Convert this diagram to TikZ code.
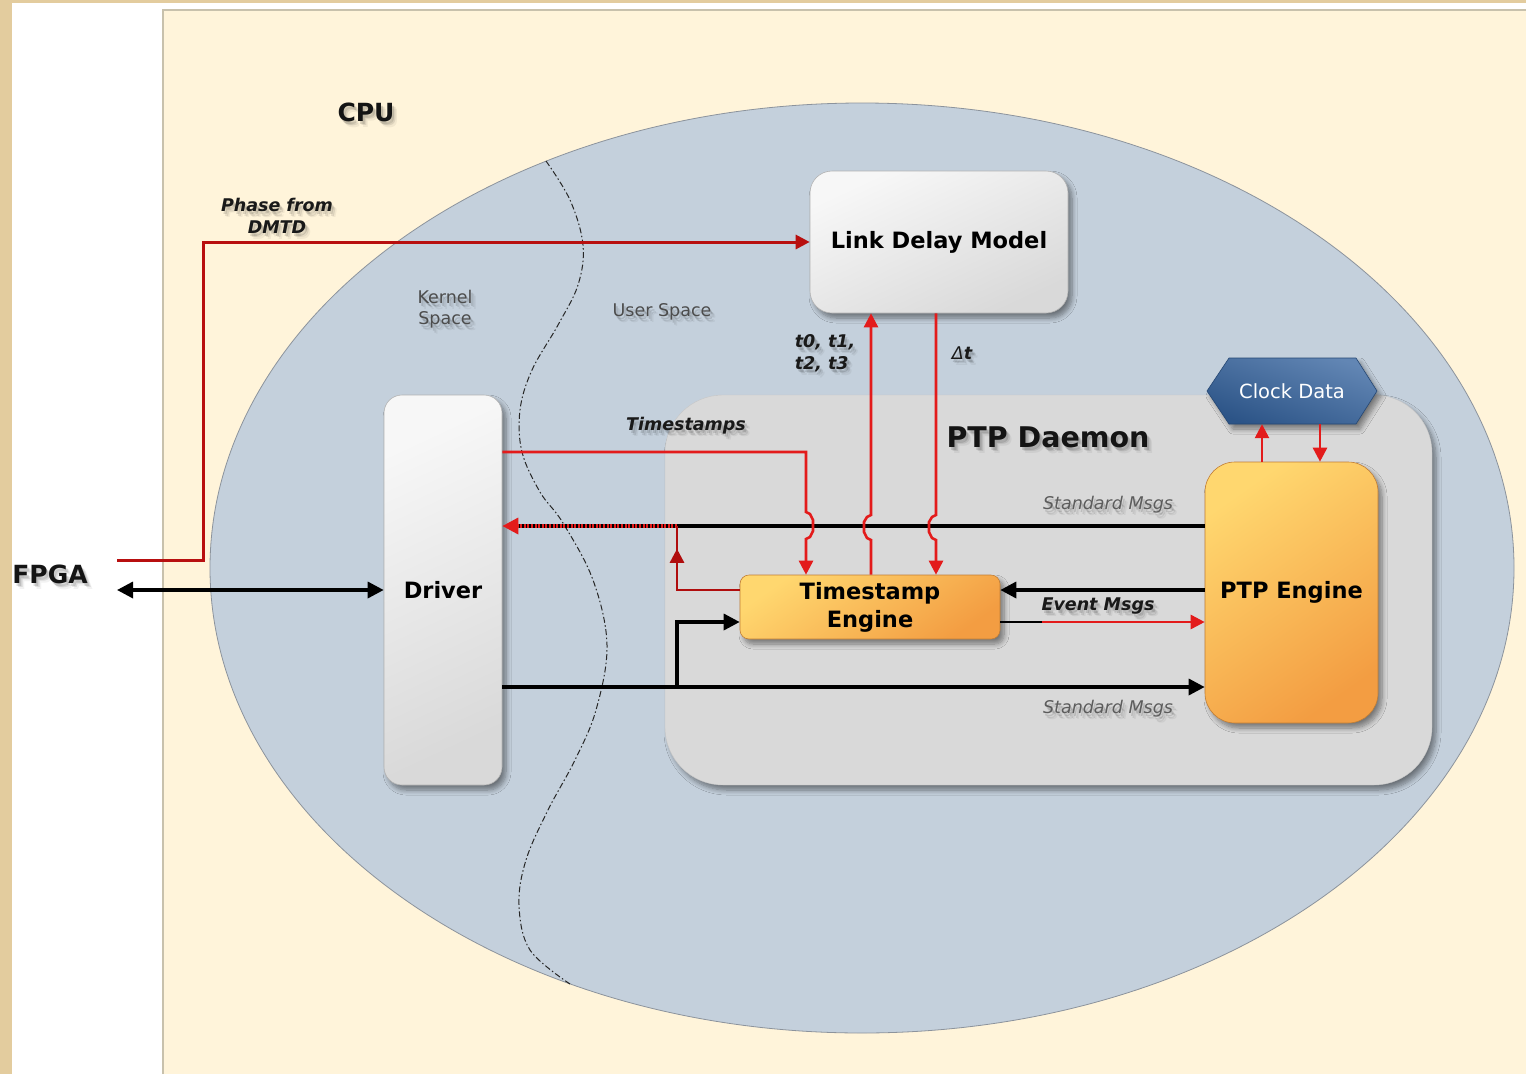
\documentclass[tikz,border=0pt]{standalone}
\usepackage{fontspec}
\setmainfont{DejaVu Sans}
\usetikzlibrary{arrows.meta,calc,shadows,shadows.blur,decorations.markings}

\definecolor{frametan}{HTML}{E3CC9E}
\definecolor{panel}{HTML}{FFF4DA}
\definecolor{panelline}{HTML}{C8C1AC}
\definecolor{cpu}{HTML}{C4D0DC}
\definecolor{cpuline}{HTML}{8C939C}
\definecolor{daemon}{HTML}{D9D9D9}
\definecolor{ored}{HTML}{E31B1B}
\definecolor{dred}{HTML}{B00D0D}
\definecolor{orA}{HTML}{FFD76F}
\definecolor{orB}{HTML}{F39D42}
\definecolor{hexA}{HTML}{6286B4}
\definecolor{hexB}{HTML}{2C5487}

\tikzset{
  box/.style={draw=black!30, line width=0.6pt, align=center, inner sep=0pt,
    font=\fontsize{22.5}{28}\selectfont\bfseries},
  greybox/.style={box, top color=black!3, bottom color=black!15, shading angle=25},
  orangebox/.style={box, draw=orB!80!black, top color=orA, bottom color=orB, shading angle=35},
  softshadow/.style={blur shadow={shadow xshift=4pt, shadow yshift=-5pt,
    shadow blur steps=8, shadow blur radius=5pt, shadow opacity=45}},
  blk/.style={line width=3.4pt, black},
  redln/.style={line width=2.6pt, ored},
  bhead/.style={-{Triangle[length=16pt,width=16pt]}},
  rhead/.style={-{Triangle[length=14pt,width=14pt]}},
  lbl/.style={font=\fontsize{17.5}{21.5}\selectfont, text=black!70, align=center, inner sep=0pt},
  ilbl/.style={lbl, text=black!64, font=\fontsize{17.5}{21.5}\selectfont\itshape},
  bilbl/.style={lbl, text=black!90, font=\fontsize{17.5}{21.5}\selectfont\bfseries\itshape},
  bigbold/.style={inner sep=0pt, text=black!92, font=\fontsize{25}{30}\selectfont\bfseries},
}

% text with a soft drop shadow: options, name, position, text
\newcommand\softtext[4]{%
  \foreach \dx/\dy/\op [count=\k] in {2/3/0.13, 3.5/4.5/0.09, 5/6/0.05}{%
    \node[#1, text=black, text opacity=\op] (#2s\k) at ($#3+(\dx,\dy)$) {#4};}%
  \node[#1] (#2) at #3 {#4};}

\begin{document}
\begin{tikzpicture}[x=1pt, y=-1pt]
\useasboundingbox (0,0) rectangle (1526,1074);

% page frame and panel
\fill[frametan] (0,0) rectangle (1526,1074);
\fill[white] (12,3) rectangle (1526,1074);
\fill[panel] (163,10) rectangle (1526,1074);
\draw[panelline, line width=1.2pt] (163,1074) -- (163,10) -- (1526,10);

% CPU region
\draw[draw=cpuline, line width=0.8pt, fill=cpu] (862,568) ellipse [x radius=652pt, y radius=465pt];

% kernel / user space boundary
\draw[black!85, line width=1pt, dash pattern=on 6pt off 2.5pt on 1.5pt off 2.5pt]
  plot[smooth, tension=0.6] coordinates {(546,161) (570,200) (583,245) (578,285) (558,325)
  (532,370) (520,410) (522,452) (540,492) (563,523) (593,580) (607,645) (596,710)
  (575,760) (548,810) (526,860) (519,905) (530,950) (570,984)};

% PTP daemon container
\node[draw=black!22, fill=daemon, softshadow, rounded corners=58pt, inner sep=0pt,
  minimum width=767pt, minimum height=390pt] (dmn) at (1048.5,590) {};

% functional blocks
\node[greybox, softshadow, rounded corners=18pt, minimum width=118pt, minimum height=390pt]
  (drv) at (443,590) {Driver};
\node[greybox, softshadow, rounded corners=22pt, minimum width=258pt, minimum height=142pt]
  (ldm) at (939,242) {Link Delay Model};
\node[orangebox, softshadow, rounded corners=9pt, minimum width=260pt, minimum height=64pt]
  (te) at (870,607) {Timestamp\\Engine};
\node[orangebox, softshadow, rounded corners=30pt, minimum width=173pt, minimum height=261pt]
  (pe) at (1291.5,592.5) {PTP Engine};

% clock data store
\path[softshadow, draw=hexB!85!black, line width=0.6pt, top color=hexA, bottom color=hexB, shading angle=-20]
  (1207,391) -- (1229,358) -- (1356,358) -- (1377,391) -- (1356,424) -- (1229,424) -- cycle;
\node[inner sep=0pt, minimum width=170pt, minimum height=66pt, text=white,
  font=\fontsize{19.5}{23}\selectfont] (cd) at (1292,391) {Clock Data};

% reference levels for the connectors
\coordinate (phin) at (117,560);
\coordinate (fpin) at (117,590);
\coordinate (yTS) at (0,452);
\coordinate (yStdU) at (0,526);
\coordinate (yEvA) at (0,590);
\coordinate (yEvB) at (0,622);
\coordinate (yStdL) at (0,687);
\coordinate (xTS) at (806,0);
\coordinate (xUp) at (871,0);
\coordinate (xDn) at (936,0);
\coordinate (xFb) at (677,0);
\coordinate (xCa) at (1262,0);
\coordinate (xCb) at (1320,0);

% phase from DMTD into the link delay model
\draw[line width=3pt, dred!85!ored, rhead] (phin) -- ++(86,0) |- (ldm.west);

% FPGA <-> driver
\draw[blk, {Triangle[length=16pt,width=16pt]}-{Triangle[length=16pt,width=16pt]}] (fpin) -- (drv.west);

% standard messages out of the PTP engine to the driver
\draw[blk, -{Triangle[length=16pt,width=16pt,color=ored]}] (pe.west |- yStdU) -- (drv.east |- yStdU);
\draw[ored, line width=3.4pt, dash pattern=on 2pt off 1.6pt] (xFb |- yStdU) -- ($(drv.east |- yStdU)+(14,0)$);

% timestamp engine feedback onto the outgoing path
\draw[dred, line width=2.6pt, postaction={decorate},
  decoration={markings, mark=at position 0.82 with {\arrow{Triangle[length=14pt,width=14pt]}}}]
  (te.west |- yEvA) -| (xFb |- yStdU);

% timestamps from the driver
\draw[redln, rhead] (drv.east |- yTS) -| (806,512) -- (810,514) -- (813,520) -- (813,531)
  -- (810,537) -- (806,539) -- (te.north -| xTS);

% t0..t3 to the link delay model
\draw[redln, rhead] (te.north -| xUp) -- (871,540) -- (867,538) -- (864,532) -- (864,522)
  -- (867,517) -- (871,515) -- (ldm.south -| xUp);

% delta t back to the timestamp engine
\draw[redln, rhead] (ldm.south -| xDn) -- (936,515) -- (932,517) -- (929,522) -- (929,532)
  -- (932,538) -- (936,540) -- (te.north -| xDn);

% event messages
\draw[blk, bhead] (pe.west |- yEvA) -- (te.east |- yEvA);
\draw[line width=2.6pt, ored, rhead] (te.east |- yEvB) -- (pe.west |- yEvB);
\draw[line width=2.8pt, black] (te.east |- yEvB) -- ++(42,0);

% standard messages from the driver into the PTP engine
\draw[blk, bhead] (drv.east |- yStdL) -- (pe.west |- yStdL);
\draw[blk, bhead] (xFb |- yStdL) |- (te.west |- yEvB);

% PTP engine <-> clock data
\draw[redln, rhead] (pe.north -| xCa) -- (cd.south -| xCa);
\draw[redln, rhead] (cd.south -| xCb) -- (pe.north -| xCb);

% labels
\softtext{bigbold}{cpulbl}{(366,112)}{CPU}
\softtext{bigbold}{fpgalbl}{(50,574)}{FPGA}
\softtext{bigbold, font=\fontsize{28.5}{34}\selectfont\bfseries}{dmnlbl}{(1048,437)}{PTP Daemon}
\softtext{bilbl}{phaselbl}{(277,216)}{Phase from\\DMTD}
\softtext{lbl}{kernlbl}{(445,309)}{Kernel\\Space}
\softtext{lbl}{userlbl}{(662,312)}{User Space}
\softtext{bilbl}{tslbl}{(686,426)}{Timestamps}
\softtext{bilbl, align=left}{tlbl}{(825,353)}{t0, t1,\\t2, t3}
\softtext{lbl, text=black!90}{dtlbl}{(962,353)}{{\itshape Δ}{\bfseries\itshape t}}
\softtext{ilbl}{stdulbl}{(1108,505)}{Standard Msgs}
\softtext{bilbl}{evlbl}{(1098,606)}{Event Msgs}
\softtext{ilbl}{stdllbl}{(1108,709)}{Standard Msgs}
\end{tikzpicture}
\end{document}
